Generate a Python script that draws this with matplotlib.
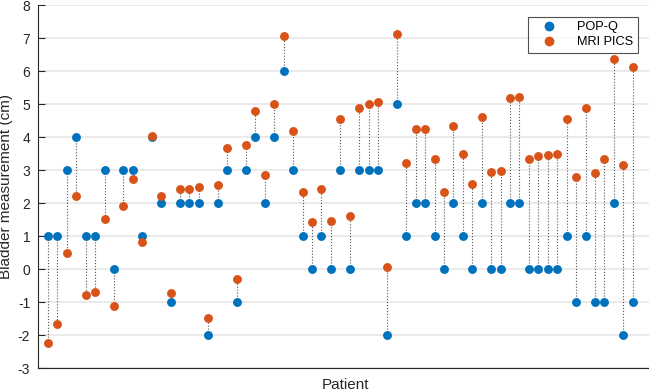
import numpy as np
import matplotlib
matplotlib.use("Agg")
import matplotlib.pyplot as plt

plt.rcParams['font.family'] = ['Liberation Sans', 'DejaVu Sans']
plt.rcParams['axes.unicode_minus'] = False

# POP-Q and MRI PICS bladder measurements (cm), one pair per patient
popq = [1, 1, 3, 4, 1, 1, 3, 0, 3, 3, 1, 4, 2, -1, 2, 2, 2, -2, 2, 3,
        -1, 3, 4, 2, 4, 6, 3, 1, 0, 1, 0, 3, 0, 3, 3, 3, -2, 5, 1, 2,
        2, 1, 0, 2, 1, 0, 2, 0, 0, 2, 2, 0, 0, 0, 0, 1, -1, 1, -1, -1,
        2, -2, -1]
mri = [-2.23, -1.68, 0.49, 2.22, -0.78, -0.71, 1.53, -1.12, 1.91, 2.73,
       0.81, 4.03, 2.22, -0.73, 2.41, 2.43, 2.48, -1.47, 2.56, 3.67,
       -0.29, 3.77, 4.78, 2.85, 5.00, 7.07, 4.18, 2.34, 1.41, 2.43,
       1.45, 4.55, 1.60, 4.87, 5.00, 5.07, 0.07, 7.12, 3.21, 4.23,
       4.24, 3.33, 2.34, 4.34, 3.50, 2.58, 4.62, 2.93, 2.96, 5.17,
       5.22, 3.33, 3.42, 3.47, 3.48, 4.54, 2.78, 4.89, 2.90, 3.34,
       6.36, 3.15, 6.11]

patient = np.arange(1, len(popq) + 1)

fig = plt.figure(figsize=(6.49, 3.92), dpi=100)
ax = fig.add_axes([0.0593, 0.0612, 0.9446, 0.926])

for i in range(len(patient)):
    ax.plot([patient[i], patient[i]], [popq[i], mri[i]], ':', color='#555555',
            lw=0.8, zorder=2)
ax.plot(patient, popq, 'o', color='#0072BD', ms=6.4, mec='none', label='POP-Q', zorder=3)
ax.plot(patient, mri, 'o', color='#D95319', ms=6.4, mec='none', label='MRI PICS', zorder=4)

ax.set_xlim(0, 65)
ax.set_ylim(-3, 8)
ax.set_yticks(range(-3, 9))
ax.set_xticks([])
ax.yaxis.grid(True, color='#e6e6e6', lw=1.2)
ax.set_axisbelow(True)
for s in ['top', 'right']:
    ax.spines[s].set_visible(False)
for s in ['left', 'bottom']:
    ax.spines[s].set_color('#262626')
    ax.spines[s].set_linewidth(0.8)
ax.tick_params(axis='y', direction='in', length=5, width=0.8, color='#262626',
               labelsize=10, labelcolor='#262626', pad=6)
ax.set_ylabel('Bladder measurement (cm)', fontsize=11, color='#262626', labelpad=3)
ax.set_xlabel('Patient', fontsize=11, color='#262626', labelpad=7)

leg = ax.legend(loc='upper right', bbox_to_anchor=(0.978, 0.968), fontsize=9.2,
                frameon=True, fancybox=False, edgecolor='#262626',
                handlelength=2.6, handletextpad=0.9, borderpad=0.35,
                labelspacing=0.25, borderaxespad=0, markerscale=1.1)
leg.get_frame().set_linewidth(0.8)

fig.savefig('out.png', dpi=100)
